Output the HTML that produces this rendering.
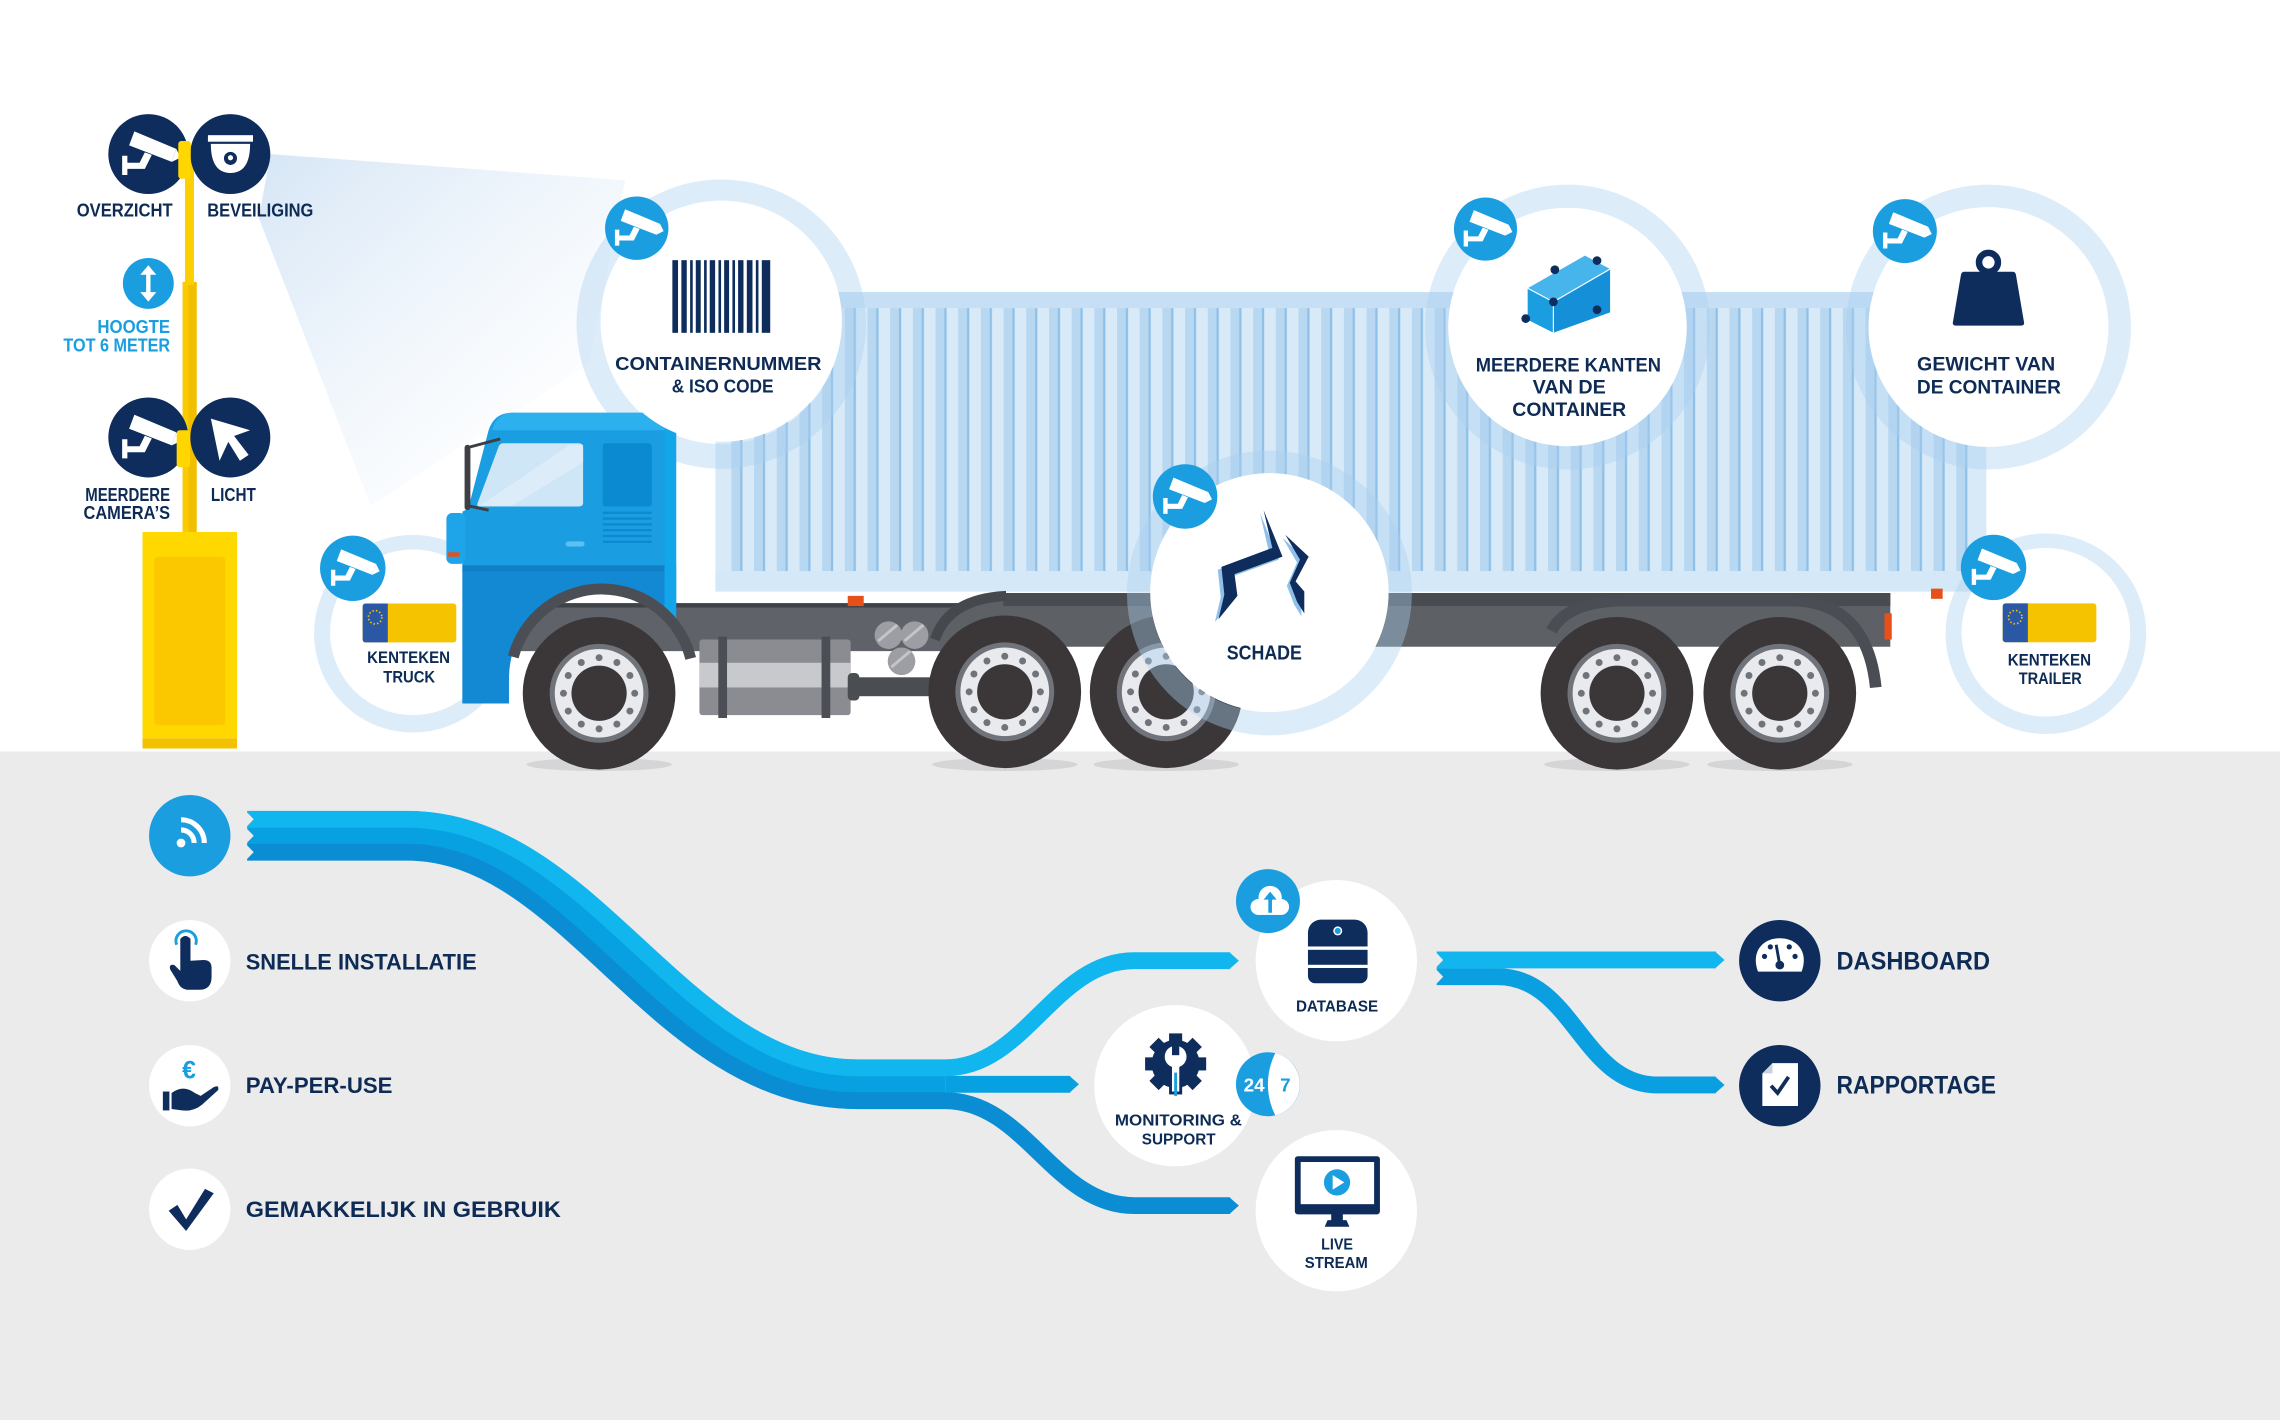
<!DOCTYPE html>
<html><head><meta charset="utf-8">
<style>
html,body{margin:0;padding:0;background:#fff;overflow:hidden;}
svg{display:block;}
text{font-family:"Liberation Sans",Arial,sans-serif;font-weight:bold;}
</style></head>
<body>
<svg xmlns="http://www.w3.org/2000/svg" width="2280" height="1420" viewBox="0 0 1568 977" preserveAspectRatio="none">
<defs>
  <linearGradient id="cone" gradientUnits="userSpaceOnUse" x1="185" y1="110" x2="380" y2="330">
    <stop offset="0" stop-color="#d3e4f5" stop-opacity="0.9"/>
    <stop offset="1" stop-color="#e8f1fa" stop-opacity="0"/>
  </linearGradient>
  <pattern id="stripes" patternUnits="userSpaceOnUse" x="503" y="0" width="15.6" height="20">
    <rect x="0" y="0" width="15.6" height="20" fill="#d8eaf8"/>
    <rect x="0" y="0" width="6" height="20" fill="#b8d7f1"/>
    <rect x="6" y="0" width="1.6" height="20" fill="#8fc0e7"/>
  </pattern>
  <g id="cam" fill="#fff">
    <path d="M-8,-13 L16,-3 L13.5,4.5 L-11,-5 Z"/>
    <path d="M13.5,4.5 L16,-3 L18.5,2 Z"/>
    <path d="M-15,1 L-12,1 L-12,5 L-5,5 L-2,-1 L2,0.5 L-2,8.5 L-12,8.5 L-12,12 L-15,12 Z"/>
  </g>
  <g id="wheel">
    <circle r="52.5" fill="#3b3739"/>
    <circle r="34" fill="#70737a"/>
    <circle r="30.5" fill="#e9eaee"/>
    <g fill="#70737a">
      <circle cx="24.5" cy="0" r="2.4"/><circle cx="21.2" cy="12.25" r="2.4"/><circle cx="12.25" cy="21.2" r="2.4"/>
      <circle cx="0" cy="24.5" r="2.4"/><circle cx="-12.25" cy="21.2" r="2.4"/><circle cx="-21.2" cy="12.25" r="2.4"/>
      <circle cx="-24.5" cy="0" r="2.4"/><circle cx="-21.2" cy="-12.25" r="2.4"/><circle cx="-12.25" cy="-21.2" r="2.4"/>
      <circle cx="0" cy="-24.5" r="2.4"/><circle cx="12.25" cy="-21.2" r="2.4"/><circle cx="21.2" cy="-12.25" r="2.4"/>
    </g>
    <circle r="19" fill="#3b3739"/>
  </g>
  <g id="plate">
    <rect x="0" y="0" width="64.4" height="26.8" rx="2" fill="#f5c300"/>
    <path d="M2,0 H17.3 V26.8 H2 A2,2 0 0 1 0,24.8 V2 A2,2 0 0 1 2,0 Z" fill="#2a58a5"/>
    <circle cx="8.6" cy="9.5" r="4.6" fill="none" stroke="#f5c300" stroke-width="1.2" stroke-dasharray="1 1.45"/>
  </g>
</defs>

<!-- background -->
<rect x="0" y="0" width="1568" height="977" fill="#fff"/>
<rect x="0" y="517" width="1568" height="460" fill="#ebebec"/>

<!-- light cone -->
<polygon points="186,106 430,124 405,250 255,348 178,150" fill="url(#cone)"/>

<!-- container -->
<rect x="492" y="201" width="874" height="206" fill="#d8eaf8"/>
<rect x="492" y="201" width="874" height="11" fill="#c7dff4"/>
<rect x="500" y="212" width="860" height="181" fill="url(#stripes)"/>
<rect x="492" y="393" width="874" height="14" fill="#d5e8f7"/>

<!-- truck chassis -->
<rect x="345" y="415" width="350" height="33" fill="#5f6369"/>
<rect x="345" y="415" width="350" height="3" fill="#3f4247"/>
<!-- trailer chassis -->
<path d="M646,445 Q652,410 692,408 L1300,408 L1300,445 Z" fill="#5d6166"/>
<rect x="690" y="408" width="610" height="9" fill="#484b50"/>
<path d="M643,440 Q652,412 692,410" stroke="#45484d" stroke-width="7" fill="none"/>
<!-- rear fender -->
<path d="M1067,434 Q1078,413 1120,413 L1232,413 Q1284,414 1290,473" stroke="#4a4d53" stroke-width="8" fill="none"/>
<!-- lights -->
<rect x="583" y="410" width="11" height="7" fill="#e8501b"/>
<rect x="1296" y="422" width="5" height="18" fill="#e8501b"/>
<rect x="1328" y="405" width="8" height="7" fill="#e8501b"/>

<!-- fuel tank -->
<rect x="481" y="440" width="104" height="52" rx="2" fill="#8a8c91"/>
<rect x="481" y="456" width="104" height="17" fill="#c8c9cd"/>
<rect x="494" y="438" width="6" height="56" fill="#4b4e54"/>
<rect x="565" y="438" width="6" height="56" fill="#4b4e54"/>
<!-- drive shaft -->
<rect x="585" y="466" width="62" height="13" fill="#4a4d52"/>
<rect x="583" y="463" width="8" height="19" rx="3" fill="#4a4d52"/>
<!-- air tanks -->
<circle cx="611" cy="437" r="9.5" fill="#9c9ea3"/>
<circle cx="629" cy="437" r="9.5" fill="#9c9ea3"/>
<circle cx="620" cy="455" r="9.5" fill="#9c9ea3"/>
<path d="M604,441 L617,430" stroke="#c3c5c9" stroke-width="2"/>
<path d="M622,441 L635,430" stroke="#c3c5c9" stroke-width="2"/>
<path d="M613,459 L626,448" stroke="#c3c5c9" stroke-width="2"/>

<!-- containernummer ring (behind cab) -->
<circle cx="496" cy="223" r="91" fill="none" stroke="#a9d0f0" stroke-opacity="0.4" stroke-width="17"/>

<!-- Kenteken truck circle (behind cab) -->
<circle cx="284" cy="436" r="62" fill="none" stroke="#a9d0f0" stroke-opacity="0.4" stroke-width="12"/>
<circle cx="284" cy="435" r="57" fill="#fff"/>
<circle cx="242.6" cy="391" r="22.5" fill="#1a9ee0"/>
<use href="#cam" transform="translate(242.6,391)"/>
<use href="#plate" transform="translate(249.4,415.2)"/>
<text x="281" y="456.2" font-size="11.5" fill="#0d2b55" text-anchor="middle" textLength="57" lengthAdjust="spacingAndGlyphs">KENTEKEN</text>
<text x="281.4" y="469.5" font-size="11.5" fill="#0d2b55" text-anchor="middle" textLength="35.6" lengthAdjust="spacingAndGlyphs">TRUCK</text>

<!-- cab -->
<path d="M352,284 L465,284 L465,428 A64,64 0 0 0 350,467 L350,484 L318,484 L318,352 L322,350 L336,296 Q340,284 352,284 Z" fill="#1b9de2"/>
<path d="M318,392 L465,392 L465,428 A64,64 0 0 0 350,467 L350,484 L318,484 Z" fill="#1389d3"/>
<rect x="318" y="389" width="147" height="4" fill="#0f7fc6"/>
<path d="M352,284 L465,284 L465,296 L338.5,296 L339,294 Q343,284 352,284 Z" fill="#2db0ee"/>
<rect x="457" y="284" width="8" height="144" fill="#12a5ea"/>
<!-- headlight bump -->
<rect x="307" y="353" width="13" height="35" rx="4" fill="#1ea4e8"/>
<rect x="308" y="380" width="8" height="3" fill="#e8501b"/>
<!-- windows -->
<path d="M346,305 L398,305 Q401,305 401,308 L401,346 Q401,348.5 398,348.5 L330,348.5 Q327.5,348.5 328.5,346 L343,307 Q344,305 346,305 Z" fill="#cfe6f7"/>
<path d="M330,348 L392,306 L401,306 L401,318 L352,348 Z" fill="#e1effa" opacity="0.7"/>
<rect x="414.5" y="305" width="33.7" height="43.5" rx="2" fill="#0b8ad2"/>
<g fill="#0b8ad2">
  <rect x="414.5" y="352" width="33.7" height="1.6"/><rect x="414.5" y="356" width="33.7" height="1.6"/>
  <rect x="414.5" y="360" width="33.7" height="1.6"/><rect x="414.5" y="364" width="33.7" height="1.6"/>
  <rect x="414.5" y="368" width="33.7" height="1.6"/><rect x="414.5" y="372" width="33.7" height="1.6"/>
</g>
<rect x="389" y="372.5" width="13" height="3.5" rx="1.7" fill="#5cc0f2"/>
<!-- mirror -->
<path d="M321.5,308 L321.5,349" stroke="#3e3f45" stroke-width="4" stroke-linecap="round"/>
<path d="M321.5,308 L344,302" stroke="#3e3f45" stroke-width="2"/>
<path d="M322,348 L336,351" stroke="#3e3f45" stroke-width="2"/>
<!-- front fender -->
<path d="M353,452 A63,63 0 0 1 475,453" stroke="#4b4e55" stroke-width="7.5" fill="none"/>

<!-- wheel shadows -->
<g fill="#d5d5d7">
  <ellipse cx="412" cy="526" rx="50" ry="4.5"/>
  <ellipse cx="691" cy="526" rx="50" ry="4.5"/>
  <ellipse cx="802" cy="526" rx="50" ry="4.5"/>
  <ellipse cx="1112" cy="526" rx="50" ry="4.5"/>
  <ellipse cx="1224" cy="526" rx="50" ry="4.5"/>
</g>
<use href="#wheel" transform="translate(412,477)"/>
<use href="#wheel" transform="translate(691,476)"/>
<use href="#wheel" transform="translate(802,476)"/>
<use href="#wheel" transform="translate(1112,477)"/>
<use href="#wheel" transform="translate(1224,477)"/>

<!-- Containernummer circle -->
<circle cx="496" cy="221" r="83" fill="#fff"/>
<circle cx="437.9" cy="157" r="21.8" fill="#1a9ee0"/>
<use href="#cam" transform="translate(437.9,157)"/>
<g fill="#0e2d5c">
  <rect x="462.4" y="179" width="3.9" height="50"/>
  <rect x="468.6" y="179" width="3.7" height="50"/>
  <rect x="474.6" y="179" width="1.8" height="50"/>
  <rect x="478.5" y="179" width="3.4" height="50"/>
  <rect x="484.2" y="179" width="1.8" height="50"/>
  <rect x="488.1" y="179" width="3.7" height="50"/>
  <rect x="494.1" y="179" width="1.8" height="50"/>
  <rect x="498" y="179" width="3.4" height="50"/>
  <rect x="503.7" y="179" width="1.8" height="50"/>
  <rect x="507.6" y="179" width="3.7" height="50"/>
  <rect x="513.6" y="179" width="3.9" height="50"/>
  <rect x="519.8" y="179" width="1.8" height="50"/>
  <rect x="523.9" y="179" width="5.8" height="50"/>
</g>
<text x="494" y="254.5" font-size="12.5" fill="#0d2b55" text-anchor="middle" textLength="142" lengthAdjust="spacingAndGlyphs">CONTAINERNUMMER</text>
<text x="497" y="270" font-size="12.5" fill="#0d2b55" text-anchor="middle" textLength="70" lengthAdjust="spacingAndGlyphs">&amp; ISO CODE</text>

<!-- Meerdere kanten circle -->
<circle cx="1078" cy="225" r="90" fill="none" stroke="#a9d0f0" stroke-opacity="0.4" stroke-width="16"/>
<circle cx="1078" cy="225" r="82" fill="#fff"/>
<circle cx="1021.6" cy="157.6" r="21.7" fill="#1a9ee0"/>
<use href="#cam" transform="translate(1021.6,157.6)"/>
<polygon points="1050.6,198.3 1090,175.9 1107.3,185.1 1068.3,207.7" fill="#47b5ec"/>
<polygon points="1050.6,198.3 1068.3,207.7 1068.3,228.9 1050.6,220" fill="#1a9ee0"/>
<polygon points="1068.3,207.7 1107.3,185.1 1107.3,214.9 1068.3,228.9" fill="#1590d8"/>
<path d="M1050.6,198.3 L1068.3,207.7 L1107.3,185.1 M1068.3,207.7 L1068.3,228.9" stroke="#fff" stroke-width="0.8" fill="none"/>
<g fill="#0e2d5c">
  <circle cx="1069.3" cy="185.6" r="3"/><circle cx="1098.3" cy="179.3" r="3"/>
  <circle cx="1068.3" cy="207.7" r="3"/><circle cx="1098.3" cy="213.1" r="3"/>
  <circle cx="1049.3" cy="219.2" r="3"/>
</g>
<text x="1078.6" y="255.6" font-size="13.5" fill="#0d2b55" text-anchor="middle" textLength="127.4" lengthAdjust="spacingAndGlyphs">MEERDERE KANTEN</text>
<text x="1079.2" y="270.9" font-size="13.5" fill="#0d2b55" text-anchor="middle" textLength="50.3" lengthAdjust="spacingAndGlyphs">VAN DE</text>
<text x="1079.2" y="286.1" font-size="13.5" fill="#0d2b55" text-anchor="middle" textLength="78.3" lengthAdjust="spacingAndGlyphs">CONTAINER</text>

<!-- Gewicht circle -->
<circle cx="1367.5" cy="225" r="90" fill="none" stroke="#a9d0f0" stroke-opacity="0.4" stroke-width="16"/>
<circle cx="1367.5" cy="225" r="82.5" fill="#fff"/>
<circle cx="1310" cy="159" r="22" fill="#1a9ee0"/>
<use href="#cam" transform="translate(1310,159)"/>
<circle cx="1367.5" cy="180.5" r="6.5" fill="none" stroke="#0e2d5c" stroke-width="4.5"/>
<path d="M1351,187 L1384,187 Q1386,187 1386.4,189 L1392,222 Q1392.3,224 1390,224 L1345,224 Q1342.7,224 1343,222 L1348.6,189 Q1349,187 1351,187 Z" fill="#0e2d5c"/>
<text x="1365.9" y="255" font-size="13.5" fill="#0d2b55" text-anchor="middle" textLength="95" lengthAdjust="spacingAndGlyphs">GEWICHT VAN</text>
<text x="1367.8" y="270.8" font-size="13.5" fill="#0d2b55" text-anchor="middle" textLength="99" lengthAdjust="spacingAndGlyphs">DE CONTAINER</text>

<!-- Schade circle -->
<circle cx="873" cy="408" r="90" fill="none" stroke="#a9d0f0" stroke-opacity="0.4" stroke-width="16"/>
<circle cx="873" cy="407.5" r="82" fill="#fff"/>
<circle cx="815" cy="341.6" r="22.2" fill="#1a9ee0"/>
<use href="#cam" transform="translate(815,341.6)"/>
<polygon points="869,351 882,383 849,395 851,410 838,426 842,409 840,390 875,377" fill="#8fc0ea" transform="translate(-2.5,2)"/>
<polygon points="869,351 882,383 849,395 851,410 838,426 842,409 840,390 875,377" fill="#0e2d5c"/>
<polygon points="884,368 900,383 891,400 897,407 897,422 892,414 887,401 894,385" fill="#8fc0ea" transform="translate(-2,2)"/>
<polygon points="884,368 900,383 891,400 897,407 897,422 892,414 887,401 894,385" fill="#0e2d5c"/>
<text x="869.5" y="453.9" font-size="14" fill="#0d2b55" text-anchor="middle" textLength="51.7" lengthAdjust="spacingAndGlyphs">SCHADE</text>

<!-- Kenteken trailer circle -->
<circle cx="1407" cy="436" r="63" fill="none" stroke="#a9d0f0" stroke-opacity="0.4" stroke-width="12"/>
<circle cx="1407" cy="435" r="58" fill="#fff"/>
<circle cx="1371" cy="390.4" r="22.5" fill="#1a9ee0"/>
<use href="#cam" transform="translate(1371,390.4)"/>
<use href="#plate" transform="translate(1377.3,415.1)"/>
<text x="1409.4" y="457.8" font-size="11.5" fill="#0d2b55" text-anchor="middle" textLength="57.3" lengthAdjust="spacingAndGlyphs">KENTEKEN</text>
<text x="1410" y="470.6" font-size="11.5" fill="#0d2b55" text-anchor="middle" textLength="43.4" lengthAdjust="spacingAndGlyphs">TRAILER</text>

<!-- pole -->
<rect x="125.6" y="194" width="9.7" height="174" fill="#f2bf00"/>
<rect x="125.6" y="194" width="4" height="174" fill="#f9cb00"/>
<rect x="127.2" y="100" width="6.2" height="96" fill="#fcd000"/>
<rect x="98" y="366" width="65" height="142" fill="#ffd800"/>
<rect x="106" y="383" width="49" height="116" rx="3" fill="#fbc800"/>
<rect x="98" y="508" width="65" height="7" fill="#f2c200"/>

<!-- pole icons -->
<circle cx="102" cy="106" r="27.5" fill="#0e2d5c"/>
<use href="#cam" transform="translate(102,106) scale(1.2)"/>
<circle cx="158.4" cy="106" r="27.5" fill="#0e2d5c"/>
<rect x="143" y="93" width="31" height="4.5" fill="#fff"/>
<path d="M145,99 L172,99 Q172,119 158.5,119 Q145,119 145,99 Z" fill="#fff"/>
<circle cx="158.5" cy="109" r="4.5" fill="#0e2d5c"/>
<circle cx="158.5" cy="108.5" r="1.8" fill="#fff"/>
<circle cx="102" cy="195" r="17.5" fill="#1a9ee0"/>
<path d="M102,187 L102,203" stroke="#fff" stroke-width="3"/>
<polygon points="96.5,189 102,182.5 107.5,189" fill="#fff"/>
<polygon points="96.5,201 102,207.5 107.5,201" fill="#fff"/>
<circle cx="102" cy="301" r="27.5" fill="#0e2d5c"/>
<use href="#cam" transform="translate(102,301) scale(1.2)"/>
<circle cx="158.4" cy="301" r="27.5" fill="#0e2d5c"/>
<polygon points="145,288 172,296 161,300 171,313 165,317 157,304 151,317" fill="#fff"/>
<rect x="122.6" y="97" width="8.6" height="26" rx="2" fill="#ffd600"/>
<rect x="121.5" y="296" width="9.2" height="25.4" rx="2" fill="#ffd600"/>

<text x="85.75" y="149" font-size="12.5" fill="#0d2b55" text-anchor="middle" textLength="66" lengthAdjust="spacingAndGlyphs">OVERZICHT</text>
<text x="179" y="149" font-size="12.5" fill="#0d2b55" text-anchor="middle" textLength="73" lengthAdjust="spacingAndGlyphs">BEVEILIGING</text>
<text x="117" y="229" font-size="12.5" fill="#1b9ee0" text-anchor="end" textLength="50" lengthAdjust="spacingAndGlyphs">HOOGTE</text>
<text x="117" y="241.7" font-size="12.5" fill="#1b9ee0" text-anchor="end" textLength="73.4" lengthAdjust="spacingAndGlyphs">TOT 6 METER</text>
<text x="117" y="344.6" font-size="12.5" fill="#0d2b55" text-anchor="end" textLength="58.4" lengthAdjust="spacingAndGlyphs">MEERDERE</text>
<text x="117" y="357.2" font-size="12.5" fill="#0d2b55" text-anchor="end" textLength="59.6" lengthAdjust="spacingAndGlyphs">CAMERA’S</text>
<text x="145" y="344.6" font-size="12.5" fill="#0d2b55" textLength="31" lengthAdjust="spacingAndGlyphs">LICHT</text>

<!-- ===== bottom section ===== -->
<path d="M170,575 L280,575 C400,575 460,746 590,746 L650,746" stroke="#07a1e2" stroke-width="34" fill="none"/>
<path d="M170,586.3 L280,586.3 C392,586.3 452,757.3 590,757.3 L650,757.3 C705,757.3 725,829.5 780,829.5 L846,829.5" stroke="#0b8dd4" stroke-width="11.6" fill="none"/>
<path d="M650,746 L736,746" stroke="#07a1e2" stroke-width="11.6" fill="none"/>
<path d="M170,563.7 L280,563.7 C408,563.7 468,734.7 590,734.7 L650,734.7 C705,734.7 725,661 780,661 L846,661" stroke="#12b6ee" stroke-width="11.6" fill="none"/>
<polygon points="845.5,655.2 852,661 845.5,666.8" fill="#12b6ee"/>
<polygon points="735.5,740.2 742,746 735.5,751.8" fill="#07a1e2"/>
<polygon points="845.5,823.7 852,829.5 845.5,835.3" fill="#0b8dd4"/>
<g fill="#ebebec">
  <polygon points="169,558 174.5,563.7 169,569.4"/>
  <polygon points="169,569.4 174.5,575 169,580.7"/>
  <polygon points="169,580.7 174.5,586.3 169,592"/>
</g>
<path d="M988,672 L1030,672 C1082,672 1088,746.5 1140,746.5 L1180,746.5" stroke="#0a9fe0" stroke-width="11.6" fill="none"/>
<path d="M988,660.5 L1180,660.5" stroke="#12b6ee" stroke-width="11.6" fill="none"/>
<polygon points="1179.5,654.7 1186,660.5 1179.5,666.3" fill="#12b6ee"/>
<polygon points="1179.5,740.7 1186,746.5 1179.5,752.3" fill="#0a9fe0"/>
<g fill="#ebebec">
  <polygon points="987,654.7 992.5,660.5 987,666.3"/>
  <polygon points="987,666.3 992.5,672 987,677.8"/>
</g>

<!-- left list -->
<circle cx="130.5" cy="575" r="28" fill="#1a9ee0"/>
<circle cx="124.5" cy="580" r="3" fill="#fff"/>
<path d="M124.5,571 A9,9 0 0 1 133.5,580" stroke="#fff" stroke-width="3.5" fill="none"/>
<path d="M124.5,564 A16,16 0 0 1 140.5,580" stroke="#fff" stroke-width="3.5" fill="none"/>

<circle cx="130.5" cy="661" r="28" fill="#fff"/>
<path d="M121.5,650 A7,7 0 1 1 134.5,650" stroke="#1a9ee0" stroke-width="2" fill="none"/>
<path d="M124,646 Q127.5,642 131,646 L131,661 L140,660.5 Q145.5,660.5 145.5,666 L145.5,672 Q145.5,681 137,681 L130,681 Q124,681 122,675 L117,667 Q116,663 120,664 L124,668 Z" fill="#0e2d5c"/>

<circle cx="130.5" cy="747" r="28" fill="#fff"/>
<text x="130" y="742" font-size="17" fill="#1a9ee0" text-anchor="middle">€</text>
<rect x="112" y="751" width="4.5" height="13" fill="#0e2d5c"/>
<path d="M118,752 Q126,746 134,752 L138,754 L147,748 Q151,746 150,750 L139,760 Q133,765 125,764 L118,763 Z" fill="#0e2d5c"/>

<circle cx="130.5" cy="832" r="28" fill="#fff"/>
<polygon points="116,833 122,829 128,839 141,818 147,821 128,847" fill="#0e2d5c"/>

<text x="169" y="667" font-size="15.5" fill="#0d2b55" textLength="158.8" lengthAdjust="spacingAndGlyphs">SNELLE INSTALLATIE</text>
<text x="169" y="752" font-size="15.5" fill="#0d2b55" textLength="100.9" lengthAdjust="spacingAndGlyphs">PAY-PER-USE</text>
<text x="169" y="837.2" font-size="15.5" fill="#0d2b55" textLength="216.7" lengthAdjust="spacingAndGlyphs">GEMAKKELIJK IN GEBRUIK</text>

<!-- database -->
<circle cx="919" cy="661" r="55.5" fill="#fff"/>
<rect x="899.5" y="632.7" width="41" height="18.5" rx="9" fill="#0e2d5c"/>
<rect x="899.5" y="642" width="41" height="9.2" fill="#0e2d5c"/>
<rect x="899.5" y="653.5" width="41" height="10.3" fill="#0e2d5c"/>
<rect x="899.5" y="666" width="41" height="10.5" rx="5" fill="#0e2d5c"/>
<rect x="899.5" y="666" width="41" height="5" fill="#0e2d5c"/>
<circle cx="920" cy="640.5" r="2.6" fill="#1a9ee0" stroke="#fff" stroke-width="1"/>
<circle cx="872" cy="620" r="22" fill="#1a9ee0"/>
<g fill="#fff">
  <circle cx="865.5" cy="624" r="5.5"/><circle cx="873.5" cy="617.5" r="8"/><circle cx="881" cy="624" r="5.5"/>
  <rect x="865.5" y="620" width="15.5" height="9.5"/>
</g>
<path d="M873.5,628 L873.5,617" stroke="#1a9ee0" stroke-width="2.5"/>
<polygon points="869,619 873.5,613.5 878,619" fill="#1a9ee0"/>
<text x="919.5" y="695.8" font-size="10.6" fill="#0d2b55" text-anchor="middle" textLength="56.5" lengthAdjust="spacingAndGlyphs">DATABASE</text>

<!-- monitoring -->
<circle cx="808" cy="747" r="55.5" fill="#fff"/>
<g transform="translate(808.5,732)" fill="#0e2d5c">
  <circle r="16.5"/>
  <rect x="-4.5" y="-21" width="9" height="8"/>
  <rect x="-4.5" y="-21" width="9" height="8" transform="rotate(45)"/>
  <rect x="-4.5" y="-21" width="9" height="8" transform="rotate(90)"/>
  <rect x="-4.5" y="-21" width="9" height="8" transform="rotate(135)"/>
  <rect x="-4.5" y="-21" width="9" height="8" transform="rotate(180)"/>
  <rect x="-4.5" y="-21" width="9" height="8" transform="rotate(225)"/>
  <rect x="-4.5" y="-21" width="9" height="8" transform="rotate(270)"/>
  <rect x="-4.5" y="-21" width="9" height="8" transform="rotate(315)"/>
</g>
<circle cx="808.5" cy="727" r="7.5" fill="#fff"/>
<rect x="806" y="717" width="5" height="9" fill="#0e2d5c"/>
<rect x="806" y="730" width="5" height="21" fill="#fff"/>
<rect x="807.5" y="738" width="2" height="16" fill="#1a9ee0"/>
<circle cx="872" cy="746" r="22" fill="#1a9ee0"/>
<path d="M877,724.6 A22,22 0 0 1 877,767.4 A48,48 0 0 1 877,724.6 Z" fill="#fff"/>
<text x="862.5" y="751" font-size="13" fill="#fff" text-anchor="middle">24</text>
<text x="884" y="751" font-size="13" fill="#1a9ee0" text-anchor="middle">7</text>
<text x="810.4" y="774.4" font-size="10.6" fill="#0d2b55" text-anchor="middle" textLength="87.4" lengthAdjust="spacingAndGlyphs">MONITORING &amp;</text>
<text x="810.6" y="787.5" font-size="10.6" fill="#0d2b55" text-anchor="middle" textLength="50.7" lengthAdjust="spacingAndGlyphs">SUPPORT</text>

<!-- live stream -->
<circle cx="919" cy="833" r="55.5" fill="#fff"/>
<rect x="890.5" y="795.5" width="58.5" height="40" rx="2" fill="#0e2d5c"/>
<rect x="894.5" y="799.5" width="50.5" height="29" fill="#fff"/>
<circle cx="919.5" cy="813.5" r="9" fill="#1a9ee0"/>
<polygon points="916.5,808.5 916.5,818.5 924.5,813.5" fill="#fff"/>
<rect x="915.5" y="835" width="8" height="5" fill="#0e2d5c"/>
<polygon points="911,844 913,839.5 926,839.5 928,844" fill="#0e2d5c"/>
<text x="919.5" y="859.7" font-size="10.6" fill="#0d2b55" text-anchor="middle" textLength="21.9" lengthAdjust="spacingAndGlyphs">LIVE</text>
<text x="919" y="872.3" font-size="10.6" fill="#0d2b55" text-anchor="middle" textLength="43.3" lengthAdjust="spacingAndGlyphs">STREAM</text>

<!-- dashboard -->
<circle cx="1224" cy="661" r="28" fill="#0e2d5c"/>
<path d="M1209,668.5 C1204,655 1212,645.5 1224,645.5 C1236,645.5 1244,655 1239,668.5 Z" fill="#fff"/>
<g fill="#0e2d5c">
  <circle cx="1213.5" cy="658" r="1.8"/><circle cx="1217.5" cy="651.5" r="1.8"/>
  <circle cx="1230.5" cy="651.5" r="1.8"/><circle cx="1234.5" cy="658" r="1.8"/>
  <circle cx="1224" cy="664" r="3"/>
</g>
<path d="M1224,664 L1221.5,650" stroke="#0e2d5c" stroke-width="2"/>
<text x="1263" y="667" font-size="17" fill="#0d2b55" textLength="105.6" lengthAdjust="spacingAndGlyphs">DASHBOARD</text>

<!-- rapportage -->
<circle cx="1224" cy="747" r="28" fill="#0e2d5c"/>
<path d="M1219,731.5 L1236.5,731.5 L1236.5,761 L1212,761 L1212,738.5 Z" fill="#fff"/>
<polygon points="1212,738.5 1219,738.5 1219,731.5" fill="#c9d3df"/>
<polyline points="1218,747 1222.5,752 1230,741" stroke="#0e2d5c" stroke-width="2.6" fill="none"/>
<text x="1263" y="752.4" font-size="17" fill="#0d2b55" textLength="109.7" lengthAdjust="spacingAndGlyphs">RAPPORTAGE</text>
</svg>
</body>
</html>
